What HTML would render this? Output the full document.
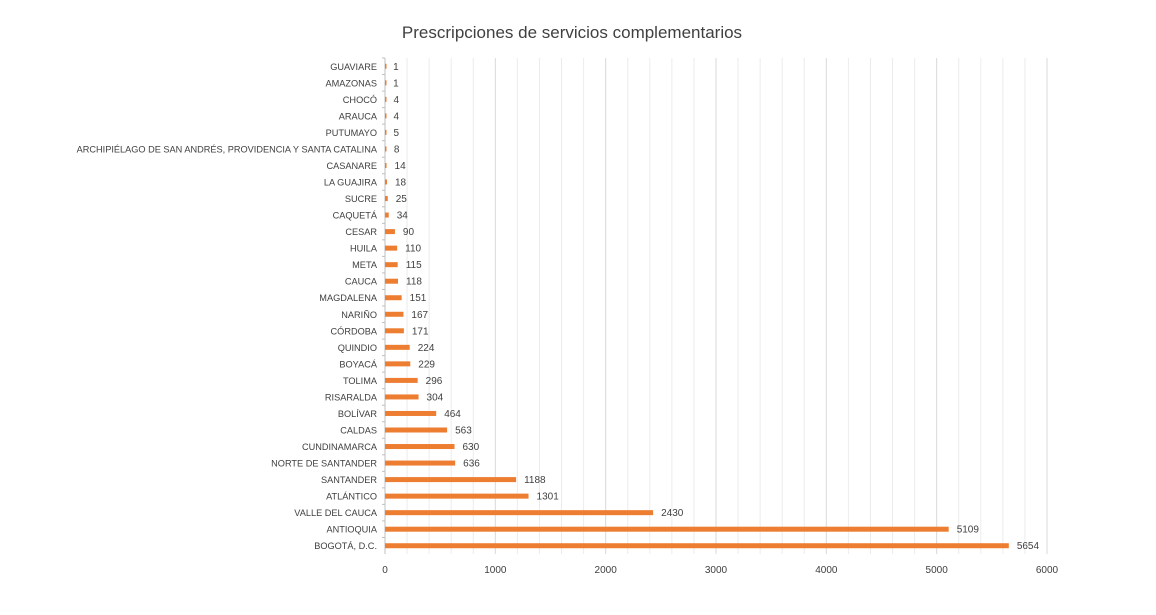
<!DOCTYPE html>
<html><head><meta charset="utf-8"><style>
body{margin:0;background:#fff;}
svg{display:block;font-family:"Liberation Sans",sans-serif;}
</style></head><body>
<svg id="c" width="1156" height="615">
<text x="572" y="38" text-anchor="middle" font-size="17" fill="#404040">Prescripciones de servicios complementarios</text>
<g id="grid"></g><g id="bars"></g><g id="ylab"></g><g id="xlab"></g>
</svg>
<script>
const categories=["GUAVIARE","AMAZONAS","CHOCÓ","ARAUCA","PUTUMAYO","ARCHIPIÉLAGO DE SAN ANDRÉS, PROVIDENCIA Y SANTA CATALINA","CASANARE","LA GUAJIRA","SUCRE","CAQUETÁ","CESAR","HUILA","META","CAUCA","MAGDALENA","NARIÑO","CÓRDOBA","QUINDIO","BOYACÁ","TOLIMA","RISARALDA","BOLÍVAR","CALDAS","CUNDINAMARCA","NORTE DE SANTANDER","SANTANDER","ATLÁNTICO","VALLE DEL CAUCA","ANTIOQUIA","BOGOTÁ, D.C."];
const values=[1,1,4,4,5,8,14,18,25,34,90,110,115,118,151,167,171,224,229,296,304,464,563,630,636,1188,1301,2430,5109,5654];
const xTicks=[0,1000,2000,3000,4000,5000,6000];
const NS="http://www.w3.org/2000/svg";
const x0=385,x1=1047,xMax=6000,yTop=58,yBot=554;
const X=v=>x0+(v/xMax)*(x1-x0);
const step=(yBot-yTop)/categories.length;
const Y=i=>yTop+step*(i+0.5);
function mk(t,a,p){const e=document.createElementNS(NS,t);for(const k in a)e.setAttribute(k,a[k]);p.appendChild(e);return e;}
const g=document.getElementById('grid');
for(let v=200;v<=xMax;v+=200){const l=mk('line',{x1:X(v),x2:X(v),y1:yTop,y2:yBot,stroke:v%1000===0?'#d9d9d9':'#ececec','stroke-width':1},g);

}
const ax=mk('line',{x1:x0,x2:x0,y1:yTop,y2:yBot,stroke:'#bfbfbf'},g);


const b=document.getElementById('bars'),yl=document.getElementById('ylab'),xl=document.getElementById('xlab');
categories.forEach((c,i)=>{
 const y=Y(i);
 const tk=mk('line',{x1:x0-3,x2:x0,y1:yTop+step*i,y2:yTop+step*i,stroke:'#bfbfbf'},g);
 
 
 const r=mk('rect',{x:x0,y:y-2.5,width:Math.max(X(values[i])-x0,1.5),height:5,fill:'#ed7d31'},b);
 
 
 const t=mk('text',{x:X(values[i])+8,y:y+3.5,'font-size':10,fill:'#404040'},b);t.textContent=values[i];
 
 
 const l=mk('text',{x:x0-8,y:y+3.5,'font-size':9.2,fill:'#404040','text-anchor':'end'},yl);l.textContent=c;
 
 
});
xTicks.forEach(v=>{const t=mk('text',{x:X(v),y:573,'font-size':10,fill:'#404040','text-anchor':'middle'},xl);t.textContent=v;
 
 });
</script>
</body></html>
